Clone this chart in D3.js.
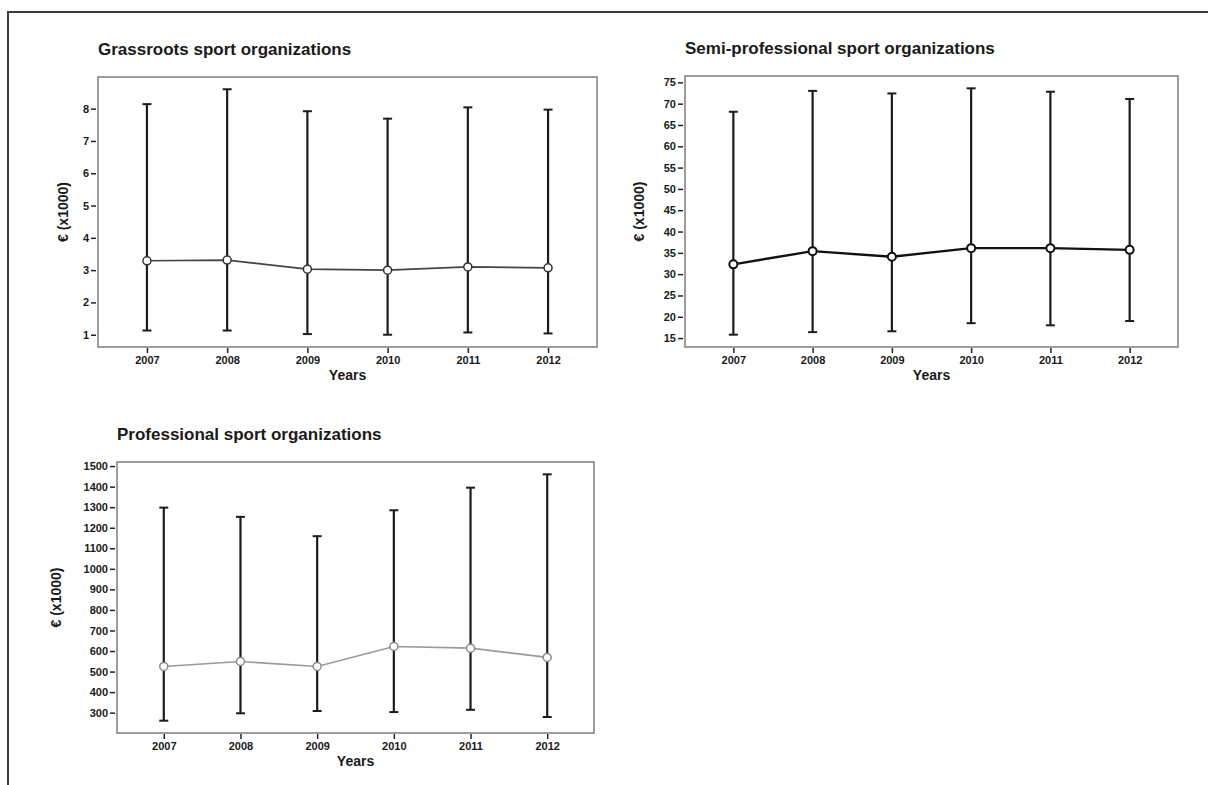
<!DOCTYPE html>
<html>
<head>
<meta charset="utf-8">
<script src="https://cdn.jsdelivr.net/npm/d3@7"></script>
<style>
  html, body { margin: 0; padding: 0; background: #fff; }
  svg { display: block; }
  text { font-family: "Liberation Sans", Arial, sans-serif; font-weight: bold; fill: #1a1a1a; }
</style>
</head>
<body>
<svg id="chart" width="1208" height="785"></svg>
<script>
// ---- Data ----
const years = ["2007", "2008", "2009", "2010", "2011", "2012"];

const grassrootsMean  = [3.29, 3.31, 3.03, 3.00, 3.10, 3.07];
const grassrootsLower = [1.13, 1.13, 1.02, 1.00, 1.07, 1.04];
const grassrootsUpper = [8.14, 8.60, 7.92, 7.69, 8.04, 7.97];
const grassrootsTicks = [1, 2, 3, 4, 5, 6, 7, 8];

const semiMean  = [32.3, 35.4, 34.1, 36.1, 36.1, 35.7];
const semiLower = [15.8, 16.4, 16.6, 18.5, 18.0, 19.0];
const semiUpper = [68.1, 73.0, 72.4, 73.6, 72.8, 71.1];
const semiTicks = [15, 20, 25, 30, 35, 40, 45, 50, 55, 60, 65, 70, 75];

const proMean  = [525, 549, 525, 622, 614, 569];
const proLower = [261, 297, 308, 303, 314, 279];
const proUpper = [1298, 1253, 1159, 1285, 1395, 1460];
const proTicks = [300, 400, 500, 600, 700, 800, 900, 1000, 1100, 1200, 1300, 1400, 1500];

const titles = ["Grassroots sport organizations", "Semi-professional sport organizations", "Professional sport organizations"];
const yTitle = "€ (x1000)";
const xTitle = "Years";

// ---- Layout ----
const panels = [
  { title: titles[0], mean: grassrootsMean, lower: grassrootsLower, upper: grassrootsUpper, ticks: grassrootsTicks,
    box: { x0: 98, x1: 597, y0: 77, y1: 347 }, yLabelX: 63, lineColor: "#444", lineWidth: 1.6, markerStroke: "#333", markerWidth: 1.5 },
  { title: titles[1], mean: semiMean, lower: semiLower, upper: semiUpper, ticks: semiTicks,
    box: { x0: 685, x1: 1178, y0: 76, y1: 347 }, yLabelX: 639, lineColor: "#111", lineWidth: 2.4, markerStroke: "#111", markerWidth: 2 },
  { title: titles[2], mean: proMean, lower: proLower, upper: proUpper, ticks: proTicks,
    box: { x0: 117, x1: 594, y0: 462, y1: 733 }, yLabelX: 56, lineColor: "#9a9a9a", lineWidth: 1.6, markerStroke: "#8a8a8a", markerWidth: 1.5 }
];

const svg = d3.select("#chart");

// outer frame (top and left)
svg.append("line").attr("x1", 8).attr("x2", 1208).attr("y1", 12).attr("y2", 12)
  .attr("stroke", "#3a3a3a").attr("stroke-width", 2);
svg.append("line").attr("x1", 8).attr("x2", 8).attr("y1", 11).attr("y2", 785)
  .attr("stroke", "#3a3a3a").attr("stroke-width", 2);

panels.forEach(p => {
  const b = p.box;
  const g = svg.append("g");

  const x = d3.scalePoint().domain(years).range([b.x0, b.x1]).padding(0.61);
  const lo = d3.min(p.lower), hi = d3.max(p.upper);
  const pad = (hi - lo) * 0.05;
  const y = d3.scaleLinear().domain([lo - pad, hi + pad]).range([b.y1, b.y0]);

  // box
  g.append("rect").attr("x", b.x0).attr("y", b.y0)
    .attr("width", b.x1 - b.x0).attr("height", b.y1 - b.y0)
    .attr("fill", "none").attr("stroke", "#858585").attr("stroke-width", 1.6);

  // y axis
  const yAxis = g.append("g").attr("transform", `translate(${b.x0 - 2},0)`)
    .call(d3.axisLeft(y).tickValues(p.ticks).tickSize(5).tickPadding(2).tickFormat(d3.format("d")));
  yAxis.select(".domain").remove();
  yAxis.selectAll(".tick line").attr("stroke", "#222").attr("stroke-width", 1.5);
  yAxis.selectAll(".tick text").style("font-size", "11px").attr("fill", "#1a1a1a");

  // x axis
  const xAxis = g.append("g").attr("transform", `translate(0,${b.y1 + 1})`)
    .call(d3.axisBottom(x).tickSize(5).tickPadding(3));
  xAxis.select(".domain").remove();
  xAxis.selectAll(".tick line").attr("stroke", "#222").attr("stroke-width", 1.5);
  xAxis.selectAll(".tick text").style("font-size", "11px").attr("fill", "#1a1a1a");

  // titles
  g.append("text").attr("x", b.x0).attr("y", b.y0 - 22)
    .style("font-size", "17px").text(p.title);
  g.append("text").attr("x", (b.x0 + b.x1) / 2).attr("y", b.y1 + 33)
    .attr("text-anchor", "middle").style("font-size", "14px").text(xTitle);
  g.append("text")
    .attr("transform", `translate(${p.yLabelX},${(b.y0 + b.y1) / 2}) rotate(-90)`)
    .attr("text-anchor", "middle").attr("dy", "0.35em")
    .style("font-size", "14px").text(yTitle);

  const idx = d3.range(years.length);

  // error bars
  g.selectAll(".bar").data(idx).join("line")
    .attr("x1", i => x(years[i])).attr("x2", i => x(years[i]))
    .attr("y1", i => y(p.lower[i])).attr("y2", i => y(p.upper[i]))
    .attr("stroke", "#1c1c1c").attr("stroke-width", 2.2);
  ["lower", "upper"].forEach(k => {
    g.selectAll(".cap-" + k).data(idx).join("line")
      .attr("x1", i => x(years[i]) - 4.5).attr("x2", i => x(years[i]) + 4.5)
      .attr("y1", i => y(p[k][i])).attr("y2", i => y(p[k][i]))
      .attr("stroke", "#1c1c1c").attr("stroke-width", 2);
  });

  // mean line
  const line = d3.line().x(i => x(years[i])).y(i => y(p.mean[i]));
  g.append("path").datum(idx).attr("d", line)
    .attr("fill", "none").attr("stroke", p.lineColor).attr("stroke-width", p.lineWidth);

  // markers
  g.selectAll(".pt").data(idx).join("circle")
    .attr("cx", i => x(years[i])).attr("cy", i => y(p.mean[i])).attr("r", 4)
    .attr("fill", "#fff").attr("stroke", p.markerStroke).attr("stroke-width", p.markerWidth);
});
</script>
</body>
</html>
